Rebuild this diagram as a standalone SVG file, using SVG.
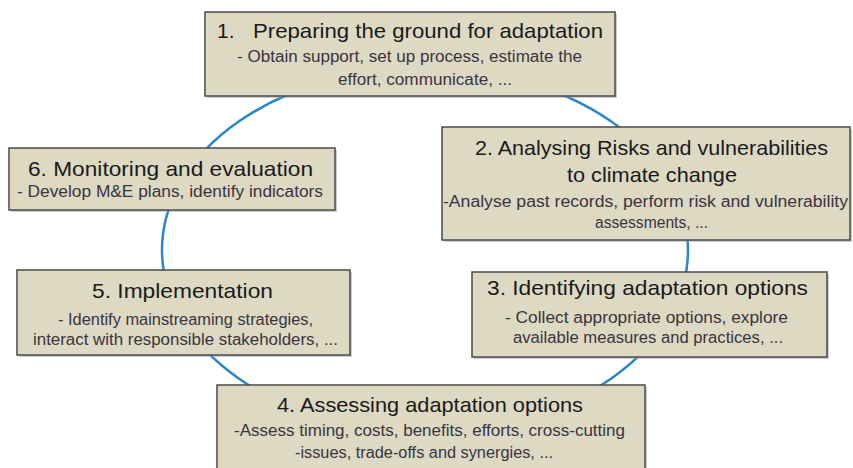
<svg xmlns="http://www.w3.org/2000/svg" width="853" height="468" viewBox="0 0 853 468">
<style>
.box{fill:#ddd9c3;stroke:#4a4a4a;stroke-width:1.5}
.shadow{fill:#9a9a9a;opacity:0.5}
.t{font-family:"Liberation Sans","Open Sans",sans-serif;font-size:21px;fill:#1a1a1a;text-anchor:middle}
.s{font-family:"Liberation Sans","Open Sans",sans-serif;font-size:16px;fill:#3a3440;text-anchor:middle}
.cycle{fill:none;stroke:#2a86cc;stroke-width:2.5}
</style>
<rect width="853" height="468" fill="#ffffff"/>
<g id="connectors">
<ellipse class="cycle" cx="425" cy="250" rx="263" ry="182"/>
</g>
<g id="node1">
<rect class="shadow" x="207" y="14" width="410" height="84"/>
<rect class="box" x="205" y="12" width="410" height="84"/>
<text class="t" x="217" y="38" style="text-anchor:start">1.</text>
<text class="t" x="428" y="38" textLength="350" lengthAdjust="spacingAndGlyphs">Preparing the ground for adaptation</text>
<text class="s" x="409.5" y="62" textLength="345" lengthAdjust="spacingAndGlyphs">- Obtain support, set up process, estimate the</text>
<text class="s" x="425" y="85" textLength="174" lengthAdjust="spacingAndGlyphs">effort, communicate, ...</text>
</g>
<g id="node2">
<rect class="shadow" x="444" y="129" width="408" height="113"/>
<rect class="box" x="442" y="127" width="408" height="113"/>
<text class="t" x="651.5" y="155" textLength="353" lengthAdjust="spacingAndGlyphs">2. Analysing Risks and vulnerabilities</text>
<text class="t" x="652" y="182" textLength="170" lengthAdjust="spacingAndGlyphs">to climate change</text>
<text class="s" x="645.5" y="207" textLength="405" lengthAdjust="spacingAndGlyphs">-Analyse past records, perform risk and vulnerability</text>
<text class="s" x="651.5" y="228" textLength="113" lengthAdjust="spacingAndGlyphs">assessments, ...</text>
</g>
<g id="node3">
<rect class="shadow" x="474" y="274" width="355" height="85"/>
<rect class="box" x="472" y="272" width="355" height="85"/>
<text class="t" x="647.5" y="295" textLength="321" lengthAdjust="spacingAndGlyphs">3. Identifying adaptation options</text>
<text class="s" x="646.5" y="323" textLength="283" lengthAdjust="spacingAndGlyphs">-  Collect appropriate options, explore</text>
<text class="s" x="648" y="343" textLength="270" lengthAdjust="spacingAndGlyphs">available measures and practices, ...</text>
</g>
<g id="node4">
<rect class="shadow" x="219" y="387" width="428" height="90"/>
<rect class="box" x="217" y="385" width="428" height="90"/>
<text class="t" x="430" y="412" textLength="306" lengthAdjust="spacingAndGlyphs">4. Assessing adaptation options</text>
<text class="s" x="429.5" y="436" textLength="391" lengthAdjust="spacingAndGlyphs">-Assess timing, costs, benefits, efforts, cross-cutting</text>
<text class="s" x="424" y="458" textLength="258" lengthAdjust="spacingAndGlyphs">-issues, trade-offs and synergies,  ...</text>
</g>
<g id="node5">
<rect class="shadow" x="19" y="272" width="333" height="85"/>
<rect class="box" x="17" y="270" width="333" height="85"/>
<text class="t" x="182.5" y="298" textLength="181" lengthAdjust="spacingAndGlyphs">5. Implementation</text>
<text class="s" x="185.5" y="325" textLength="255" lengthAdjust="spacingAndGlyphs">- Identify mainstreaming strategies,</text>
<text class="s" x="185.5" y="345" textLength="305" lengthAdjust="spacingAndGlyphs">interact with responsible stakeholders, ...</text>
</g>
<g id="node6">
<rect class="shadow" x="11" y="150" width="326" height="62"/>
<rect class="box" x="9" y="148" width="326" height="62"/>
<text class="t" x="170.5" y="176" textLength="285" lengthAdjust="spacingAndGlyphs">6. Monitoring and evaluation</text>
<text class="s" x="170" y="197" textLength="306" lengthAdjust="spacingAndGlyphs">- Develop M&amp;E plans, identify indicators</text>
</g>
</svg>
